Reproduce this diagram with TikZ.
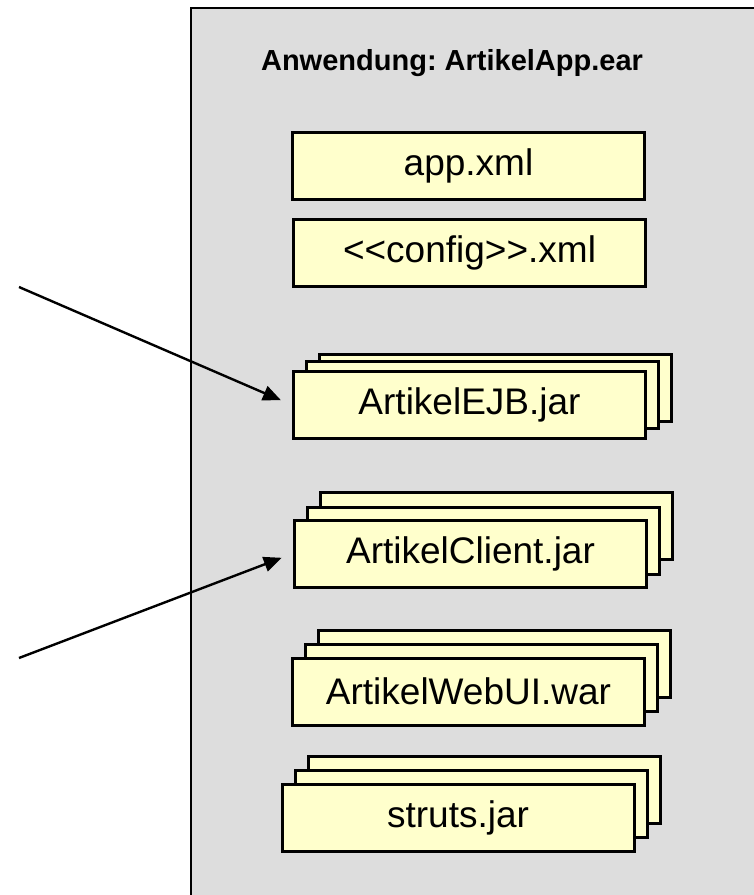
\documentclass[tikz,border=0pt]{standalone}
\usepackage{fontspec}
\setmainfont{Liberation Sans}
\usetikzlibrary{arrows.meta,shadows}
\definecolor{earGrau}{HTML}{DDDDDD}
\definecolor{jarGelb}{HTML}{FFFFCC}
\tikzset{
	datei/.style={draw=black, line width=1.5pt, fill=jarGelb,
		minimum width=176pt, minimum height=33.5pt, inner sep=0pt,
		font=\fontsize{18.5}{22}\selectfont},
	stapel/.style 2 args={datei,
		copy shadow={shadow xshift=13pt, shadow yshift=#1, fill=jarGelb,
			draw=black, line width=1.5pt},
		copy shadow={shadow xshift=6.5pt, shadow yshift=#2, fill=jarGelb,
			draw=black, line width=1.5pt}},
	pfeil/.style={line width=1.2pt, -{Triangle[length=9pt,width=7.5pt]},
		shorten >=6pt}
}
\begin{document}
\begin{tikzpicture}[x=0.5pt, y=-0.5pt]
	\useasboundingbox (0,0) rectangle (754,895);
	% Anwendung
	\filldraw[fill=earGrau, draw=black, line width=1.1pt] (191,8) rectangle
	(760,900);
	\node (titel) at (452,63) {\fontsize{14.5}{17}\selectfont\bfseries
	Anwendung:\ ArtikelApp.ear};
	% Deskriptoren
	\node[datei] (app) at (468.5,165.5) {app.xml};
	\node[datei] (config) at (469.5,253) {<{}<config>{}>.xml};
	% Module
	\node[stapel={8.5pt}{5pt}] (ejb) at (469.5,405) {ArtikelEJB.jar};
	\node[stapel={14pt}{6.5pt}] (client) at (470.5,553.5) {ArtikelClient.jar};
	\node[stapel={14pt}{7pt}] (webui) at (468.5,691.5) {ArtikelWebUI.war};
	\node[stapel={14pt}{7pt}] (struts) at (458,817.5) {struts.jar};
	% Pfeile von links
	\coordinate (vonEJB) at (19,287);
	\coordinate (vonClient) at (19,658);
	\draw[pfeil] (vonEJB) -- (ejb.west);
	\draw[pfeil] (vonClient) -- (client.west);
\end{tikzpicture}
\end{document}
